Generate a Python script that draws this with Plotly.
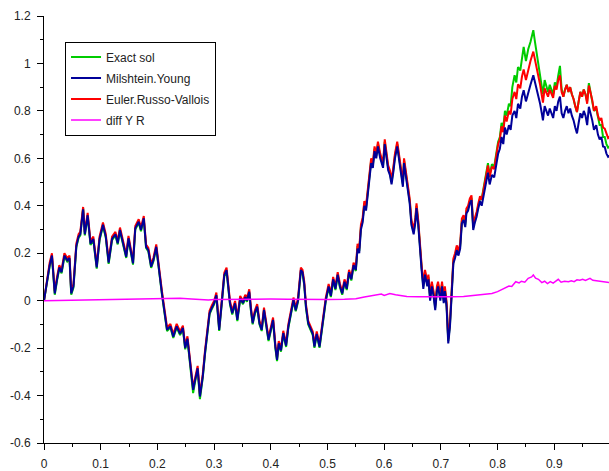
import plotly.graph_objects as go

# Sample times shared by the three solution paths
t = [0.000, 0.005, 0.010, 0.014, 0.019, 0.023, 0.027, 0.031, 0.036, 0.041,
     0.045, 0.048, 0.052, 0.057, 0.061, 0.064, 0.069, 0.072, 0.077, 0.082,
     0.087, 0.093, 0.098, 0.104, 0.109, 0.114, 0.120, 0.126, 0.130, 0.134,
     0.140, 0.145, 0.149, 0.153, 0.157, 0.161, 0.167, 0.171, 0.176, 0.180,
     0.184, 0.189, 0.193, 0.198, 0.202, 0.205, 0.208, 0.210, 0.214, 0.217,
     0.223, 0.228, 0.234, 0.240, 0.245, 0.249, 0.253, 0.258, 0.263, 0.267,
     0.271, 0.275, 0.280, 0.284, 0.288, 0.292, 0.296, 0.300, 0.304, 0.309,
     0.314, 0.318, 0.322, 0.325, 0.328, 0.332, 0.337, 0.341, 0.346, 0.351,
     0.355, 0.358, 0.362, 0.365, 0.368, 0.372, 0.376, 0.380, 0.384, 0.388,
     0.392, 0.396, 0.400, 0.404, 0.408, 0.411, 0.414, 0.418, 0.422, 0.427,
     0.431, 0.436, 0.440, 0.444, 0.448, 0.453, 0.456, 0.459, 0.462, 0.466,
     0.471, 0.474, 0.477, 0.481, 0.486, 0.490, 0.494, 0.497, 0.502, 0.506,
     0.510, 0.514, 0.518, 0.522, 0.526, 0.530, 0.534, 0.538, 0.542, 0.546,
     0.550, 0.553, 0.556, 0.559, 0.562, 0.565, 0.568, 0.571, 0.574, 0.577,
     0.580, 0.583, 0.586, 0.589, 0.593, 0.598, 0.601, 0.604, 0.607, 0.610,
     0.613, 0.616, 0.619, 0.623, 0.626, 0.629, 0.633, 0.635, 0.639, 0.642,
     0.645, 0.648, 0.652, 0.655, 0.657, 0.660, 0.663, 0.666, 0.669, 0.672,
     0.676, 0.678, 0.681, 0.684, 0.687, 0.690, 0.693, 0.695, 0.699, 0.702,
     0.705, 0.707, 0.710, 0.713, 0.716, 0.719, 0.722, 0.725, 0.728, 0.731,
     0.734, 0.737, 0.740, 0.743, 0.745, 0.748, 0.751, 0.754, 0.757, 0.760,
     0.763, 0.766, 0.769, 0.772, 0.776, 0.780, 0.783, 0.786, 0.790, 0.794,
     0.798, 0.801, 0.804, 0.807, 0.810, 0.813, 0.816, 0.820, 0.823, 0.826,
     0.830, 0.833, 0.836, 0.840, 0.843, 0.846, 0.850, 0.854, 0.858, 0.863,
     0.866, 0.869, 0.872, 0.875, 0.878, 0.880, 0.883, 0.886, 0.889, 0.892,
     0.895, 0.898, 0.901, 0.904, 0.907, 0.910, 0.913, 0.916, 0.919, 0.922,
     0.925, 0.928, 0.931, 0.934, 0.937, 0.940, 0.943, 0.946, 0.949, 0.952,
     0.955, 0.958, 0.961, 0.964, 0.967, 0.970, 0.974, 0.977, 0.980, 0.983,
     0.986, 0.989, 0.992, 0.995, 0.998]

# Milshtein / Young scheme
milshtein_young = [
    0.000, 0.080, 0.150, 0.190, 0.030, 0.090, 0.140, 0.120, 0.190, 0.170,
    0.180, 0.030, 0.060, 0.230, 0.270, 0.280, 0.385, 0.280, 0.360, 0.240,
    0.260, 0.140, 0.260, 0.320, 0.270, 0.160, 0.260, 0.280, 0.242, 0.298,
    0.242, 0.185, 0.263, 0.213, 0.157, 0.305, 0.333, 0.298, 0.347, 0.227,
    0.213, 0.143, 0.171, 0.227, 0.143, 0.073, 0.031, -0.004, -0.081, -0.123,
    -0.108, -0.152, -0.108, -0.140, -0.115, -0.200, -0.160, -0.260, -0.376, -0.330,
    -0.285, -0.404, -0.320, -0.220, -0.137, -0.053, -0.030, -0.011, 0.024, -0.123,
    0.003, 0.108, 0.129, 0.059, -0.011, -0.053, -0.011, -0.081, 0.010, -0.010,
    0.015, 0.000, 0.038, -0.039, -0.095, -0.050, -0.025, -0.095, -0.123, -0.039,
    -0.095, -0.165, -0.123, -0.081, -0.194, -0.250, -0.180, -0.210, -0.137, -0.190,
    -0.109, -0.053, 0.003, -0.040, 0.000, 0.129, 0.120, 0.070, -0.025, -0.095,
    -0.120, -0.140, -0.194, -0.140, -0.194, -0.120, -0.067, 0.003, 0.060, 0.020,
    0.090, 0.050, 0.110, 0.060, 0.030, 0.080, 0.050, 0.120, 0.090, 0.150,
    0.130, 0.220, 0.200, 0.300, 0.330, 0.400, 0.380, 0.450, 0.520, 0.580,
    0.560, 0.630, 0.600, 0.650, 0.600, 0.560, 0.660, 0.600, 0.550, 0.530,
    0.490, 0.540, 0.600, 0.650, 0.600, 0.540, 0.480, 0.580, 0.520, 0.460,
    0.410, 0.320, 0.280, 0.330, 0.390, 0.320, 0.200, 0.130, 0.050, 0.110,
    0.060, 0.090, 0.000, 0.060, 0.020, -0.040, 0.040, 0.060, 0.000, 0.060,
    -0.010, 0.040, -0.025, -0.180, -0.110, 0.000, 0.157, 0.180, 0.213, 0.190,
    0.220, 0.326, 0.340, 0.310, 0.368, 0.380, 0.410, 0.424, 0.298, 0.330,
    0.354, 0.390, 0.420, 0.400, 0.450, 0.500, 0.540, 0.490, 0.530, 0.520,
    0.580, 0.620, 0.640, 0.690, 0.660, 0.730, 0.700, 0.740, 0.720, 0.780,
    0.800, 0.770, 0.830, 0.810, 0.860, 0.887, 0.840, 0.880, 0.910, 0.950,
    0.920, 0.900, 0.870, 0.830, 0.790, 0.760, 0.820, 0.800, 0.780, 0.810,
    0.790, 0.770, 0.820, 0.800, 0.840, 0.860, 0.790, 0.770, 0.800, 0.820,
    0.790, 0.810, 0.780, 0.760, 0.730, 0.705, 0.750, 0.790, 0.770, 0.800,
    0.780, 0.740, 0.817, 0.790, 0.760, 0.720, 0.740, 0.700, 0.680, 0.690,
    0.650, 0.648, 0.620, 0.606, 0.610]

# Euler / Russo-Vallois scheme
euler_russo_vallois = [
    0.000, 0.090, 0.160, 0.200, 0.040, 0.100, 0.150, 0.130, 0.200, 0.180,
    0.190, 0.040, 0.070, 0.240, 0.280, 0.290, 0.395, 0.290, 0.370, 0.250,
    0.270, 0.150, 0.270, 0.330, 0.280, 0.170, 0.270, 0.290, 0.252, 0.308,
    0.252, 0.195, 0.273, 0.223, 0.167, 0.315, 0.343, 0.308, 0.357, 0.237,
    0.223, 0.153, 0.181, 0.237, 0.153, 0.083, 0.041, 0.006, -0.071, -0.113,
    -0.098, -0.142, -0.098, -0.130, -0.105, -0.190, -0.150, -0.250, -0.366, -0.320,
    -0.275, -0.394, -0.310, -0.210, -0.127, -0.043, -0.020, -0.001, 0.034, -0.113,
    0.013, 0.118, 0.139, 0.069, -0.001, -0.043, -0.001, -0.071, 0.020, 0.000,
    0.025, 0.010, 0.048, -0.029, -0.085, -0.040, -0.015, -0.085, -0.113, -0.029,
    -0.085, -0.155, -0.113, -0.071, -0.184, -0.240, -0.170, -0.200, -0.127, -0.180,
    -0.099, -0.043, 0.013, -0.030, 0.010, 0.139, 0.130, 0.080, -0.015, -0.085,
    -0.110, -0.130, -0.184, -0.130, -0.184, -0.110, -0.057, 0.013, 0.070, 0.030,
    0.100, 0.060, 0.120, 0.070, 0.040, 0.090, 0.060, 0.130, 0.100, 0.160,
    0.140, 0.240, 0.220, 0.320, 0.350, 0.420, 0.400, 0.470, 0.540, 0.600,
    0.580, 0.650, 0.620, 0.670, 0.620, 0.580, 0.680, 0.620, 0.570, 0.550,
    0.510, 0.560, 0.620, 0.670, 0.620, 0.560, 0.500, 0.600, 0.540, 0.480,
    0.430, 0.340, 0.300, 0.350, 0.410, 0.340, 0.220, 0.150, 0.070, 0.130,
    0.080, 0.110, 0.020, 0.080, 0.040, -0.020, 0.060, 0.080, 0.020, 0.080,
    0.010, 0.060, -0.005, -0.160, -0.090, 0.020, 0.177, 0.200, 0.233, 0.210,
    0.240, 0.346, 0.360, 0.330, 0.388, 0.400, 0.430, 0.444, 0.318, 0.350,
    0.374, 0.410, 0.440, 0.425, 0.475, 0.530, 0.570, 0.520, 0.565, 0.555,
    0.620, 0.660, 0.680, 0.735, 0.710, 0.780, 0.755, 0.800, 0.785, 0.850,
    0.880, 0.850, 0.912, 0.895, 0.945, 0.975, 0.930, 0.975, 1.010, 1.050,
    1.015, 0.990, 0.955, 0.910, 0.865, 0.835, 0.895, 0.880, 0.860, 0.890,
    0.875, 0.855, 0.905, 0.890, 0.930, 0.950, 0.880, 0.860, 0.890, 0.910,
    0.880, 0.900, 0.870, 0.850, 0.820, 0.795, 0.840, 0.880, 0.860, 0.890,
    0.870, 0.830, 0.907, 0.880, 0.845, 0.800, 0.820, 0.780, 0.760, 0.770,
    0.730, 0.725, 0.700, 0.685, 0.690]

# Exact solution
exact_sol = [
    0.000, 0.075, 0.145, 0.185, 0.025, 0.085, 0.135, 0.115, 0.185, 0.165,
    0.175, 0.025, 0.055, 0.225, 0.265, 0.275, 0.390, 0.275, 0.355, 0.235,
    0.255, 0.135, 0.255, 0.315, 0.265, 0.155, 0.255, 0.275, 0.237, 0.293,
    0.237, 0.180, 0.258, 0.208, 0.152, 0.300, 0.328, 0.293, 0.342, 0.222,
    0.208, 0.138, 0.166, 0.222, 0.138, 0.068, 0.026, -0.009, -0.086, -0.128,
    -0.113, -0.157, -0.113, -0.145, -0.120, -0.205, -0.165, -0.265, -0.390, -0.335,
    -0.290, -0.415, -0.325, -0.225, -0.142, -0.058, -0.035, -0.016, 0.019, -0.128,
    -0.002, 0.103, 0.124, 0.054, -0.016, -0.058, -0.016, -0.086, 0.005, -0.015,
    0.010, -0.005, 0.033, -0.044, -0.100, -0.055, -0.030, -0.100, -0.128, -0.044,
    -0.100, -0.170, -0.128, -0.086, -0.199, -0.255, -0.185, -0.215, -0.142, -0.195,
    -0.114, -0.058, -0.002, -0.045, -0.005, 0.124, 0.115, 0.065, -0.030, -0.100,
    -0.125, -0.145, -0.199, -0.145, -0.199, -0.125, -0.072, -0.002, 0.055, 0.015,
    0.085, 0.045, 0.105, 0.055, 0.025, 0.075, 0.045, 0.115, 0.085, 0.145,
    0.125, 0.230, 0.210, 0.310, 0.340, 0.410, 0.390, 0.460, 0.530, 0.590,
    0.570, 0.640, 0.610, 0.660, 0.610, 0.570, 0.670, 0.610, 0.560, 0.540,
    0.500, 0.550, 0.610, 0.660, 0.610, 0.550, 0.490, 0.590, 0.530, 0.470,
    0.420, 0.330, 0.290, 0.340, 0.400, 0.330, 0.210, 0.140, 0.060, 0.120,
    0.070, 0.100, 0.010, 0.070, 0.030, -0.030, 0.050, 0.070, 0.010, 0.070,
    0.000, 0.050, -0.015, -0.170, -0.100, 0.010, 0.167, 0.190, 0.223, 0.200,
    0.230, 0.336, 0.350, 0.320, 0.378, 0.390, 0.420, 0.434, 0.308, 0.340,
    0.364, 0.400, 0.430, 0.430, 0.485, 0.540, 0.580, 0.530, 0.575, 0.565,
    0.630, 0.670, 0.690, 0.750, 0.730, 0.800, 0.780, 0.830, 0.820, 0.900,
    0.950, 0.920, 0.985, 0.970, 1.020, 1.070, 1.010, 1.060, 1.090, 1.140,
    1.090, 1.040, 1.000, 0.960, 0.900, 0.870, 0.930, 0.900, 0.880, 0.910,
    0.890, 0.870, 0.920, 0.900, 0.950, 0.990, 0.890, 0.860, 0.890, 0.910,
    0.880, 0.900, 0.870, 0.850, 0.820, 0.795, 0.840, 0.880, 0.860, 0.890,
    0.870, 0.840, 0.917, 0.880, 0.840, 0.800, 0.810, 0.770, 0.740, 0.740,
    0.690, 0.690, 0.660, 0.645, 0.650]

# Difference between the two schemes, on its own time grid
t_diff = [0.000, 0.020, 0.050, 0.080, 0.100, 0.130, 0.160, 0.190, 0.220, 0.240,
          0.260, 0.275, 0.290, 0.300, 0.330, 0.360, 0.400, 0.430, 0.460, 0.500,
          0.530, 0.550, 0.565, 0.575, 0.585, 0.595, 0.600, 0.610, 0.620, 0.630,
          0.640, 0.660, 0.680, 0.700, 0.720, 0.740, 0.760, 0.770, 0.780, 0.790,
          0.800, 0.810, 0.815, 0.820, 0.825, 0.832, 0.838, 0.842, 0.848, 0.854,
          0.860, 0.863, 0.867, 0.872, 0.878, 0.883, 0.888, 0.893, 0.898, 0.903,
          0.907, 0.912, 0.918, 0.925, 0.930, 0.935, 0.940, 0.945, 0.950, 0.955,
          0.963, 0.968, 0.975, 0.982, 0.990, 0.998]
diff_y_r = [0.000, 0.001, 0.002, 0.004, 0.005, 0.007, 0.009, 0.010, 0.011, 0.010,
            0.007, 0.004, 0.003, 0.005, 0.006, 0.006, 0.007, 0.006, 0.005, 0.005,
            0.006, 0.008, 0.015, 0.020, 0.022, 0.028, 0.022, 0.030, 0.025, 0.020,
            0.018, 0.016, 0.015, 0.014, 0.016, 0.018, 0.022, 0.024, 0.027, 0.030,
            0.038, 0.050, 0.058, 0.062, 0.060, 0.080, 0.075, 0.082, 0.078, 0.094,
            0.100, 0.108, 0.095, 0.090, 0.076, 0.082, 0.072, 0.080, 0.074, 0.085,
            0.090, 0.078, 0.082, 0.080, 0.084, 0.080, 0.088, 0.086, 0.090, 0.085,
            0.094, 0.086, 0.084, 0.080, 0.077, 0.076]

x_ticks = [0, 0.1, 0.2, 0.3, 0.4, 0.5, 0.6, 0.7, 0.8, 0.9]
x_tick_text = ["0", "0.1", "0.2", "0.3", "0.4", "0.5", "0.6", "0.7", "0.8", "0.9"]
y_ticks = [-0.6, -0.4, -0.2, 0, 0.2, 0.4, 0.6, 0.8, 1.0, 1.2]
y_tick_text = ["-0.6", "-0.4", "-0.2", "0", "0.2", "0.4", "0.6", "0.8", "1", "1.2"]

FONT = "Liberation Sans, Arial, sans-serif"

fig = go.Figure()
# drawing order: exact, Euler, Milshtein, diff; legend order set by legendrank
fig.add_trace(go.Scatter(x=t, y=exact_sol, mode="lines", name="Exact sol",
                         line=dict(color="#00cc00", width=2),
                         legendrank=1, legendgroup="a"))
fig.add_trace(go.Scatter(x=t, y=euler_russo_vallois, mode="lines",
                         name="Euler.Russo-Vallois",
                         line=dict(color="#ff0000", width=2),
                         legendrank=3, legendgroup="c"))
fig.add_trace(go.Scatter(x=t, y=milshtein_young, mode="lines",
                         name="Milshtein.Young",
                         line=dict(color="#000099", width=2),
                         legendrank=2, legendgroup="b"))
fig.add_trace(go.Scatter(x=t_diff, y=diff_y_r, mode="lines", name="diff Y R",
                         line=dict(color="#ff00ff", width=1.5),
                         legendrank=4, legendgroup="d"))

axis_common = dict(
    showline=True, linecolor="black", linewidth=1,
    ticks="outside", ticklen=6, tickwidth=1, tickcolor="black",
    showgrid=False, zeroline=False, mirror=False,
    tickfont=dict(family=FONT, size=12, color="#222222"),
)

fig.update_xaxes(range=[0, 0.9965], tickmode="array", tickvals=x_ticks,
                 ticktext=x_tick_text, ticklabelstandoff=4,
                 minor=dict(dtick=0.05, tick0=0, ticks="outside", ticklen=3,
                            tickcolor="black", showgrid=False),
                 **axis_common)
fig.update_yaxes(range=[-0.6, 1.2], tickmode="array", tickvals=y_ticks,
                 ticktext=y_tick_text, ticklabelstandoff=4,
                 minor=dict(dtick=0.1, tick0=0, ticks="outside", ticklen=3,
                            tickcolor="black", showgrid=False),
                 **axis_common)

fig.update_layout(
    width=609, height=471,
    margin=dict(l=44, r=0, t=16, b=28),
    paper_bgcolor="white", plot_bgcolor="white",
    showlegend=True,
    legend=dict(x=0.0372, y=0.94, xanchor="left", yanchor="top",
                bgcolor="white", bordercolor="black", borderwidth=1,
                font=dict(family=FONT, size=12, color="#222222"),
                traceorder="grouped", tracegroupgap=2,
                itemwidth=30),
)

fig.write_html("out.html")
